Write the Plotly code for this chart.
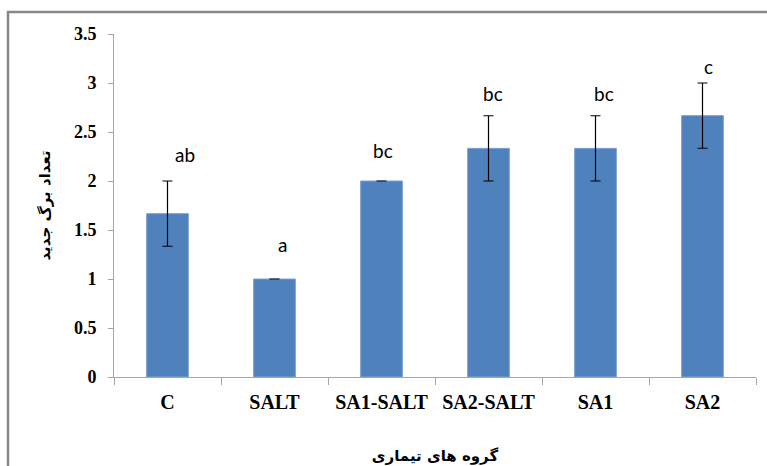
import plotly.graph_objects as go

# Treatment groups and mean number of new leaves
categories = ["C", "SALT", "SA1-SALT", "SA2-SALT", "SA1", "SA2"]
means = [1.667, 1.0, 2.0, 2.333, 2.333, 2.667]
errors = [0.333, 0.0, 0.0, 0.333, 0.333, 0.333]
letters = ["ab", "a", "bc", "bc", "bc", "c"]

# Placement of the significance letters above each error bar
letter_lift = [0.27, 0.35, 0.31, 0.23, 0.23, 0.17]
letter_shift = [17, 8, 1, 4, 8, 6]

W, H = 767, 466
ML, MR, MT, MB = 114, 11, 34, 89

fig = go.Figure()
fig.add_trace(go.Bar(
    x=categories,
    y=means,
    marker=dict(color="#4F81BD", line=dict(color="#7DA2D3", width=1)),
    error_y=dict(type="data", array=errors, visible=True,
                 color="black", thickness=1.2, width=5),
    showlegend=False,
    hoverinfo="x+y",
))

for cat, m, e, txt, lift, dx in zip(categories, means, errors, letters,
                                      letter_lift, letter_shift):
    fig.add_annotation(
        x=cat, y=m + e + lift, text=txt, showarrow=False,
        xshift=dx, yanchor="middle",
        font=dict(family="Lato, Open Sans, sans-serif", size=19, color="black"),
    )

# Outer chart frame (left and top edges visible)
fig.add_shape(
    type="rect", xref="paper", yref="paper",
    x0=(8 - ML) / (W - ML - MR), x1=(W + 20 - ML) / (W - ML - MR),
    y0=(H - MB - (H + 20)) / (H - MT - MB), y1=(H - MB - 12) / (H - MT - MB),
    line=dict(color="#878787", width=2.5), fillcolor="rgba(0,0,0,0)",
    layer="below",
)

fig.update_layout(
    width=W, height=H,
    margin=dict(l=ML, r=MR, t=MT, b=MB, autoexpand=False),
    paper_bgcolor="white", plot_bgcolor="white",
    bargap=0.61,
    xaxis=dict(
        type="category", automargin=False,
        showline=True, linecolor="#A6A6A6", linewidth=1,
        ticks="outside", tickson="boundaries", ticklen=7,
        tickcolor="#A6A6A6",
        ticklabelstandoff=7,
        tickfont=dict(family="Liberation Serif, Times New Roman, serif",
                      size=20, color="black", weight="bold"),
        title=dict(text="گروه های تیماری", standoff=38,
                   font=dict(family="DejaVu Sans", size=15, color="black",
                             weight="bold")),
        showgrid=False,
    ),
    yaxis=dict(
        range=[0, 3.5], dtick=0.5, tickformat="", automargin=False,
        showline=True, linecolor="#A6A6A6", linewidth=1,
        ticks="outside", ticklen=5, tickcolor="#A6A6A6",
        ticklabelstandoff=8,
        tickfont=dict(family="Liberation Serif, Times New Roman, serif",
                      size=18, color="black", weight="bold"),
        title=dict(text="تعداد برگ جدید", standoff=19,
                   font=dict(family="DejaVu Sans", size=15, color="black",
                             weight="bold")),
        showgrid=False, zeroline=False,
    ),
)

fig.write_html("out.html")
